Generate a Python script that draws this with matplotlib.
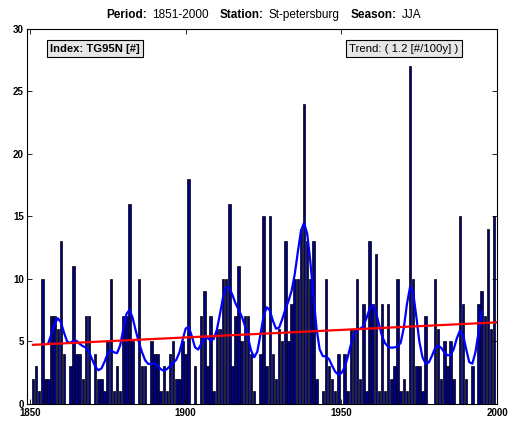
import numpy as np
import matplotlib
matplotlib.use("Agg")
import matplotlib.pyplot as plt

# TG95N counts per summer (JJA), St-petersburg
years = np.arange(1851, 2001)
tg95n = [
    2, 3, 1, 10, 2, 2, 7, 7, 6, 13, 4, 0, 3, 11, 4, 4, 2, 7, 7, 0,
    4, 2, 2, 1, 5, 10, 1, 3, 1, 7, 7, 16, 5, 0, 10, 3, 3,
    0, 5, 4, 4, 1, 3, 1, 4, 5, 2, 2, 5, 4, 18, 0, 3, 0, 7, 9, 3,
    7, 1, 6, 6, 10, 10, 16, 3, 7, 11, 5, 7, 7, 4, 1, 0, 4, 15,
    3, 15, 4, 2, 6, 5, 13, 5, 8, 10, 10, 14, 24, 13, 10, 13, 2, 0, 1, 10,
    3, 2, 1, 4, 0, 4, 1, 6, 6, 10, 2, 8, 1, 13, 8, 12, 1, 8, 1,
    8, 2, 3, 10, 1, 2, 1, 27, 10, 3, 3, 1, 7, 0, 0, 10, 6, 2, 5, 3,
    5, 2, 0, 15, 8, 2, 0, 3, 0, 8, 9, 7, 14, 6, 15, 0,
]
trend_years = [1851, 2000]
trend_vals = [4.7, 6.5]

title_parts = [("Period:", "bold"), ("1851-2000", "normal"),
               ("Station:", "bold"), ("St-petersburg", "normal"),
               ("Season:", "bold"), ("JJA", "normal")]
title_gaps = [5, 11, 5, 11, 5, 0]   # pixels after each piece
index_label = "Index: TG95N [#]"
trend_label = "Trend: ( 1.2 [#/100y] )"


def smooth(vals, sigma=1.75, half=5):
    # gaussian low-pass, end years dropped like the original
    k = np.arange(-half, half + 1)
    w = np.exp(-k ** 2 / (2 * sigma ** 2))
    return np.convolve(vals, w / w.sum(), mode="valid")


plt.rcParams["font.family"] = ["Liberation Sans", "DejaVu Sans"]
W, H = 510, 425
fig = plt.figure(figsize=(W / 100, H / 100), dpi=100)
ax = fig.add_axes([27.3 / W, 21.5 / H, 470 / W, 374.5 / H])

ax.bar(years, tg95n, width=0.8, color="#000080", edgecolor="black", linewidth=0.5)
ax.plot(years[5:-5], smooth(tg95n), color="#0000ff", lw=1.6)
ax.plot(trend_years, trend_vals, color="#ff0000", lw=1.6)

ax.set_xlim(1849.2, 2000)
ax.set_ylim(0, 30)
ax.set_xticks([1850, 1900, 1950, 2000])
ax.set_yticks(range(0, 31, 5))
ax.tick_params(direction="in", top=True, right=True, length=3.5, width=0.6,
               labelsize=7, pad=2.5)
ax.tick_params(axis="x", pad=3.5)
for lab in ax.get_xticklabels() + ax.get_yticklabels():
    lab.set_fontweight("bold")
for sp in ax.spines.values():
    sp.set_linewidth(0.8)

box = dict(boxstyle="square,pad=0.3", fc="#e6e6e6", ec="black", lw=0.8)
ax.text(0.049, 0.947, index_label, transform=ax.transAxes, fontsize=8.1,
        fontweight="bold", ha="left", va="center", bbox=box)
ax.text(0.685, 0.947, trend_label, transform=ax.transAxes, fontsize=8.2,
        ha="left", va="center", bbox=box)

# title made of bold / plain pieces, centred over the axes
renderer = fig.canvas.get_renderer()
pieces = [fig.text(0, (H - 18) / H, s, fontsize=8.5, fontweight=wt, va="baseline")
          for s, wt in title_parts]
widths = [p.get_window_extent(renderer).width for p in pieces]
x = 264 - (sum(widths) + sum(title_gaps)) / 2
for p, wd, gap in zip(pieces, widths, title_gaps):
    p.set_x(x / W)
    x += wd + gap

fig.savefig("out.png", dpi=100)
